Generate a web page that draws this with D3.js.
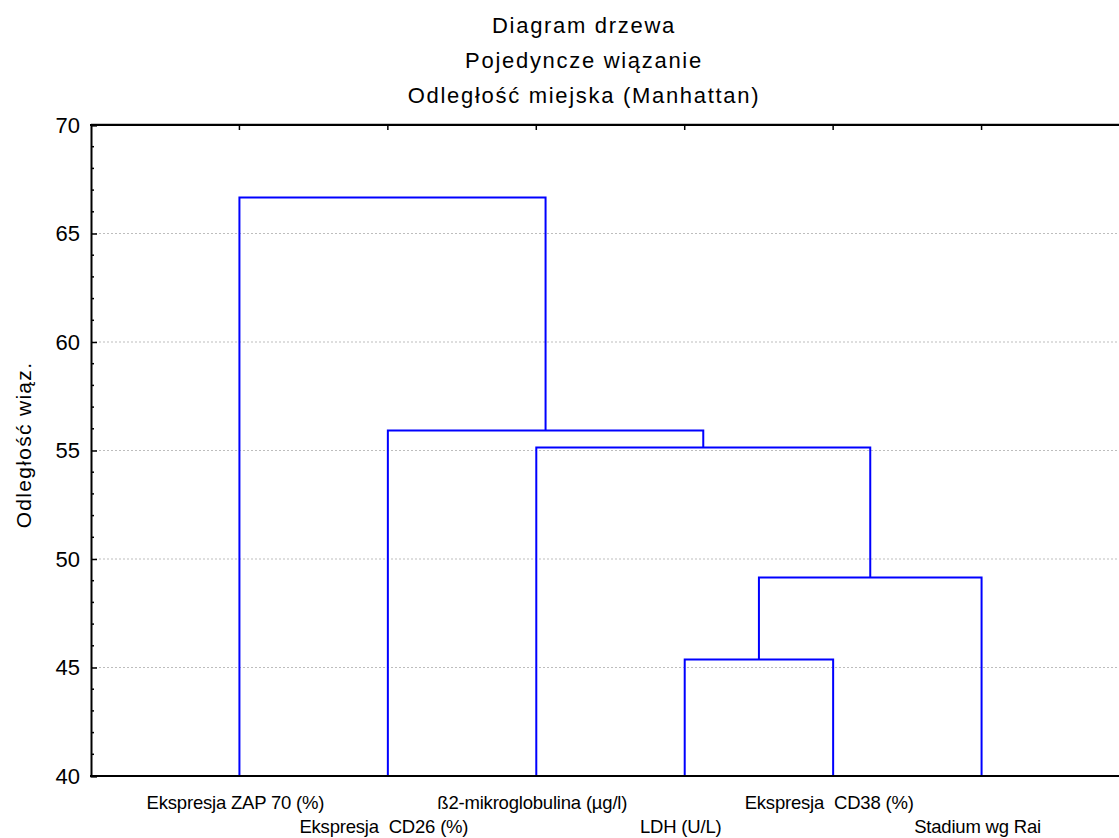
<!DOCTYPE html>
<html>
<head>
<meta charset="utf-8">
<script src="https://cdn.jsdelivr.net/npm/d3@7"></script>
<style>
  html, body { margin: 0; padding: 0; background: #fff; }
  svg { display: block; font-family: "Liberation Sans", Arial, sans-serif; }
</style>
</head>
<body>
<svg id="chart" width="1119" height="838"></svg>
<script>
// Variables (leaves of the tree), in display order
const leaves = [
  "Ekspresja ZAP 70 (%)",
  "Ekspresja  CD26 (%)",
  "ß2-mikroglobulina (µg/l)",
  "LDH (U/L)",
  "Ekspresja  CD38 (%)",
  "Stadium wg Rai"
];
// Agglomeration steps: ids 0-5 are leaves, step k creates node id 6+k
const mergeLeft  = [3, 6, 2, 1, 0];
const mergeRight = [4, 5, 7, 8, 9];
const mergeHeight = [45.37, 49.15, 55.14, 55.92, 66.66];

const titleLines = ["Diagram drzewa", "Pojedyncze wiązanie", "Odległość miejska (Manhattan)"];
const yTicks = [40, 45, 50, 55, 60, 65, 70];
const yLabel = "Odległość wiąz.";

const svg = d3.select("#chart");
const plotLeft = 91, plotTop = 125, plotBottom = 776, plotRight = 1130;

const x = d3.scalePoint().domain(d3.range(leaves.length)).range([plotLeft, plotRight]).padding(1);
const y = d3.scaleLinear().domain([40, 70]).range([plotBottom, plotTop]);

// Grid lines
svg.append("g").selectAll("line")
  .data(yTicks.filter(t => t > 40 && t < 70))
  .join("line")
  .attr("x1", plotLeft).attr("x2", 1119)
  .attr("y1", d => y(d)).attr("y2", d => y(d))
  .attr("stroke", "#bdbdbd").attr("stroke-width", 1)
  .attr("stroke-dasharray", "2,2");

// Node positions: leaves from the point scale, merged nodes at the midpoint of their children
const nodeX = leaves.map((_, i) => x(i));
const nodeH = leaves.map(() => 40);
mergeLeft.forEach((a, k) => {
  const b = mergeRight[k];
  nodeX.push((nodeX[a] + nodeX[b]) / 2);
  nodeH.push(mergeHeight[k]);
});

// Dendrogram links
const g = svg.append("g");
mergeLeft.forEach((a, k) => {
  const b = mergeRight[k];
  const h = mergeHeight[k];
  const path = d3.path();
  path.moveTo(nodeX[a], y(nodeH[a]));
  path.lineTo(nodeX[a], y(h));
  path.lineTo(nodeX[b], y(h));
  path.lineTo(nodeX[b], y(nodeH[b]));
  g.append("path")
    .attr("d", path.toString())
    .attr("fill", "none")
    .attr("stroke", "#0000ff")
    .attr("stroke-width", 2);
});

// Left axis with inner ticks
const yAxis = d3.axisLeft(y).tickValues(yTicks).tickSize(-6).tickPadding(10).tickFormat(d3.format("d"));
const ya = svg.append("g").attr("transform", `translate(${plotLeft},0)`).call(yAxis);
ya.select(".domain").attr("stroke", "#000").attr("stroke-width", 2);
ya.selectAll(".tick line").attr("stroke", "#000").attr("stroke-width", 1.5);
ya.selectAll(".tick text").attr("font-size", 22).attr("fill", "#000")
  .attr("font-family", "Liberation Sans, Arial, sans-serif").attr("x", -11);
// minor ticks
const minor = d3.range(40, 71).filter(v => v % 5 !== 0);
svg.append("g").selectAll("line").data(minor).join("line")
  .attr("x1", plotLeft).attr("x2", plotLeft + 3)
  .attr("y1", d => y(d)).attr("y2", d => y(d))
  .attr("stroke", "#000").attr("stroke-width", 1.5);

// Top and bottom frame lines with ticks at leaves
svg.append("line").attr("x1", plotLeft).attr("x2", 1119).attr("y1", plotTop - 1).attr("y2", plotTop - 1)
  .attr("stroke", "#888").attr("stroke-width", 1);
svg.append("line").attr("x1", plotLeft - 1).attr("x2", 1119).attr("y1", plotTop).attr("y2", plotTop)
  .attr("stroke", "#000").attr("stroke-width", 2);
svg.append("line").attr("x1", plotLeft - 1).attr("x2", 1119).attr("y1", plotBottom).attr("y2", plotBottom)
  .attr("stroke", "#000").attr("stroke-width", 2);
svg.append("g").selectAll("line").data(d3.range(leaves.length)).join("line")
  .attr("x1", d => x(d)).attr("x2", d => x(d))
  .attr("y1", plotTop).attr("y2", plotTop + 5)
  .attr("stroke", "#000").attr("stroke-width", 1.5);

// Leaf labels, staggered in two rows
svg.append("g").selectAll("text").data(leaves).join("text")
  .attr("x", (d, i) => x(i) - 4)
  .attr("y", (d, i) => i % 2 === 0 ? 809 : 833)
  .attr("text-anchor", "middle")
  .attr("font-size", 18.5)
  .attr("letter-spacing", "-0.2px")
  .attr("fill", "#000")
  .style("white-space", "pre")
  .text(d => d);

// Titles
svg.append("g").selectAll("text").data(titleLines).join("text")
  .attr("x", 584)
  .attr("y", (d, i) => 33 + i * 35)
  .attr("text-anchor", "middle")
  .attr("font-size", 22)
  .attr("letter-spacing", "1.7px")
  .attr("fill", "#000")
  .text(d => d);

// Y axis title
svg.append("text")
  .attr("transform", `translate(31,445) rotate(-90)`)
  .attr("text-anchor", "middle")
  .attr("font-size", 21)
  .attr("letter-spacing", "1.3px")
  .attr("fill", "#000")
  .text(yLabel);
</script>
</body>
</html>
